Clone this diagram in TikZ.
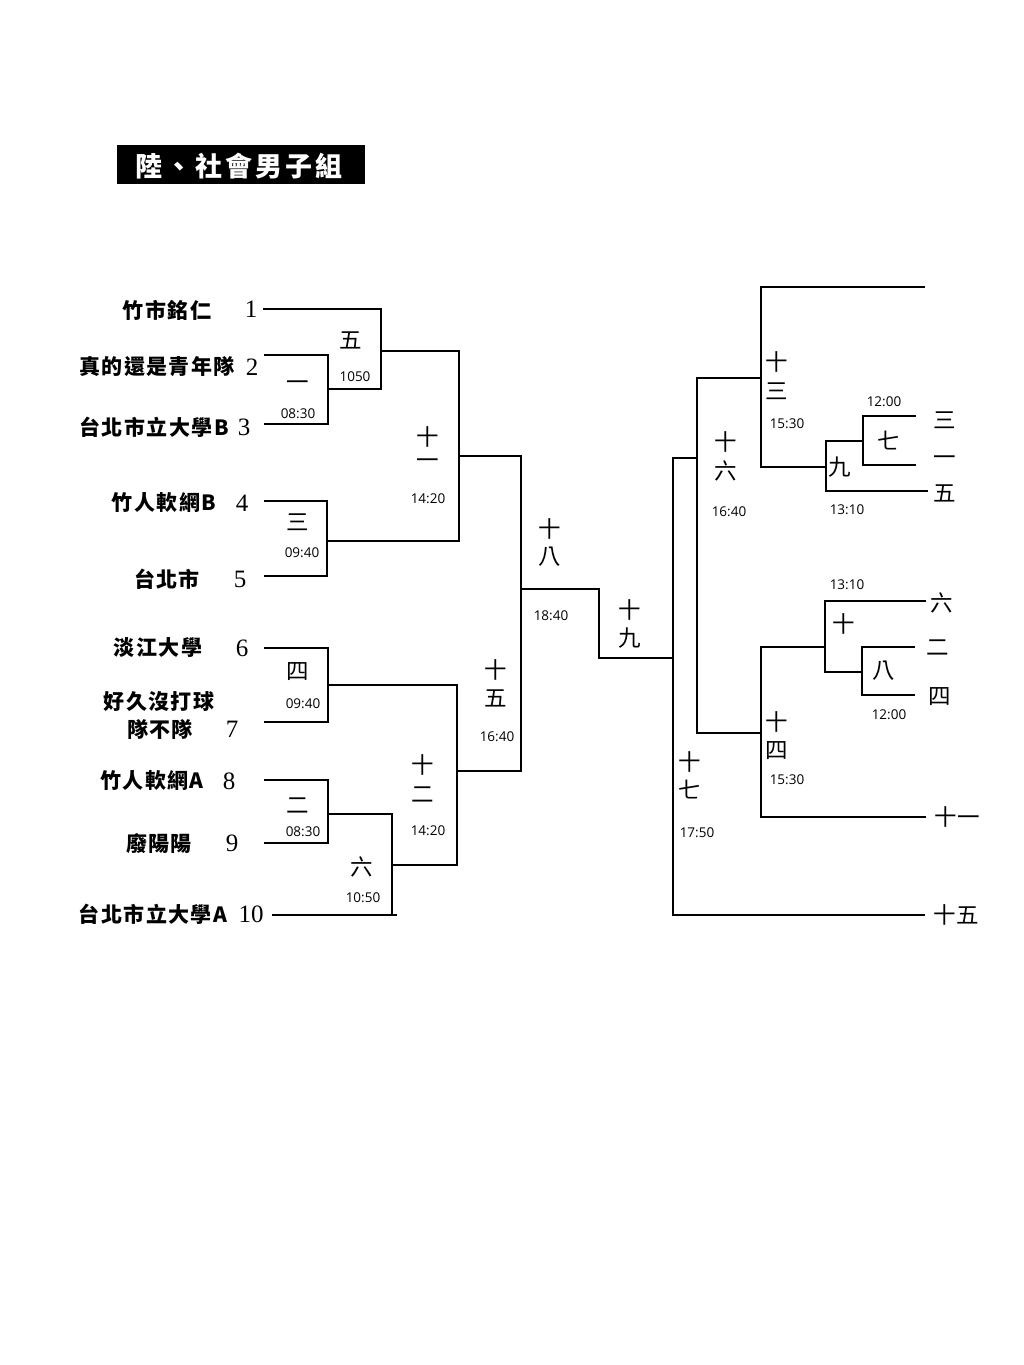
\documentclass[tikz,border=0pt]{standalone}
\usepackage{fontspec}
\setmainfont{Liberation Serif}
\newfontfamily\cjk{Noto Sans CJK TC}
\newfontfamily\cjkwide[LetterSpace=7]{Noto Sans CJK TC}
\newfontfamily\cjktitle[LetterSpace=11]{Noto Sans CJK TC}
\newfontfamily\timefont{Open Sans}
\tikzset{
  team/.style={font=\cjkwide\bfseries\fontsize{21}{22}\selectfont, inner sep=0pt},
  num/.style={font=\fontsize{25}{25}\selectfont, inner sep=0pt},
  mlab/.style={font=\cjk\fontsize{22.5}{24}\selectfont, inner sep=0pt},
  tlab/.style={font=\timefont\fontsize{13.5}{14}\selectfont, inner sep=0pt},
  ln/.style={line width=1.3pt, black},
}
\begin{document}
\begin{tikzpicture}[x=1pt,y=-1pt]
\useasboundingbox (0,0) rectangle (1024,1365);
% title
\node[fill=black, minimum width=248pt, minimum height=39pt, inner sep=0pt] (titlebox) at (241,164.5) {};
\node[font=\cjktitle\bfseries\fontsize{27}{28}\selectfont, text=white, inner sep=0pt] (title) at (239,166) {陸、社會男子組};

% team names and seeds
\node[team] (n1) at (167,310) {竹市銘仁};
\node[num] (s1) at (251,309) {1};
\node[team] (n2) at (157,367) {真的還是青年隊};
\node[num] (s2) at (252,367) {2};
\node[team] (n3) at (154,427) {台北市立大學B};
\node[num] (s3) at (244,427) {3};
\node[team] (n4) at (164,503) {竹人軟網B};
\node[num] (s4) at (242,503) {4};
\node[team] (n5) at (167,579) {台北市};
\node[num] (s5) at (240,579) {5};
\node[team] (n6) at (158,648) {淡江大學};
\node[num] (s6) at (242,648) {6};
\node[team] (n7a) at (159,702) {好久沒打球};
\node[team] (n7b) at (160,730) {隊不隊};
\node[num] (s7) at (232,729) {7};
\node[team] (n8) at (152,781) {竹人軟網A};
\node[num] (s8) at (229,781) {8};
\node[team] (n9) at (159,843) {廢陽陽};
\node[num] (s9) at (232,843) {9};
\node[team] (n10) at (153,914) {台北市立大學A};
\node[num] (s10) at (251,914) {10};

% line ends (left)
\coordinate (t1) at (263,309);
\coordinate (t2) at (264,355);
\coordinate (t3) at (264,424);
\coordinate (t4) at (264,501);
\coordinate (t5) at (264,576);
\coordinate (t6) at (264,648);
\coordinate (t7) at (264,722);
\coordinate (t8) at (264,780);
\coordinate (t9) at (264,843);
\coordinate (t10) at (272,915);
\coordinate (t10x) at (397,915);
% match output points (left)
\coordinate (m1) at (328,389);
\coordinate (m5) at (381,351);
\coordinate (m3) at (327,541);
\coordinate (m11) at (459,456);
\coordinate (m4) at (328,685);
\coordinate (m2) at (328,814);
\coordinate (m6) at (392,865);
\coordinate (m12) at (457,771);
\coordinate (m15) at (521,589);
\coordinate (m19) at (599,620);
% right side
\coordinate (eTop) at (925,287);
\coordinate (e3) at (916,416);
\coordinate (e1) at (916,465);
\coordinate (e5) at (928,491);
\coordinate (e6) at (926,601);
\coordinate (e2) at (915,647);
\coordinate (e4) at (915,695);
\coordinate (e11) at (926,817);
\coordinate (e15) at (925,915);
\coordinate (r7) at (863,441);
\coordinate (r9) at (826,467);
\coordinate (r13) at (761,378);
\coordinate (r8) at (862,672);
\coordinate (r10) at (825,647);
\coordinate (r14) at (761,733);
\coordinate (r16) at (697,458);
\coordinate (r17) at (673,658);

% connectors left
\draw[ln] (t3) -| (m1) |- (t2);
\draw[ln] (m1) -| (m5) |- (t1);
\draw[ln] (t5) -| (m3) |- (t4);
\draw[ln] (m3) -| (m11) |- (m5);
\draw[ln] (t7) -| (m4) |- (t6);
\draw[ln] (t9) -| (m2) |- (t8);
\draw[ln] (t10) -- (t10x);
\draw[ln] (t10) -| (m6) |- (m2);
\draw[ln] (m6) -| (m12) |- (m4);
\draw[ln] (m12) -| (m15) |- (m11);
\draw[ln] (m15) -| (m19) |- (r17);
% connectors right
\draw[ln] (e1) -| (r7) |- (e3);
\draw[ln] (e5) -| (r9) |- (r7);
\draw[ln] (r9) -| (r13) |- (eTop);
\draw[ln] (e4) -| (r8) |- (e2);
\draw[ln] (r8) -| (r10) |- (e6);
\draw[ln] (e11) -| (r14) |- (r10);
\draw[ln] (r14) -| (r16) |- (r13);
\draw[ln] (e15) -| (r17) |- (r16);

% match labels left
\node[mlab] (l1) at (298,386) {一};
\node[tlab] (l1t) at (298,414) {08:30};
\node[mlab] (l5) at (351,340) {五};
\node[tlab] (l5t) at (355,377) {1050};
\node[mlab] (l3) at (298,522) {三};
\node[tlab] (l3t) at (302,553) {09:40};
\node[mlab] (l11a) at (428,437) {十};
\node[mlab] (l11b) at (428,464) {一};
\node[tlab] (l11t) at (428,499) {14:20};
\node[mlab] (l4) at (298,672) {四};
\node[tlab] (l4t) at (303,704) {09:40};
\node[mlab] (l2) at (298,806) {二};
\node[tlab] (l2t) at (303,832) {08:30};
\node[mlab] (l6) at (362,867) {六};
\node[tlab] (l6t) at (363,898) {10:50};
\node[mlab] (l12a) at (423,765) {十};
\node[mlab] (l12b) at (423,795) {二};
\node[tlab] (l12t) at (428,831) {14:20};
\node[mlab] (l15a) at (496,670) {十};
\node[mlab] (l15b) at (496,698) {五};
\node[tlab] (l15t) at (497,737) {16:40};
\node[mlab] (l18a) at (550,529) {十};
\node[mlab] (l18b) at (550,557) {八};
\node[tlab] (l18t) at (551,616) {18:40};
\node[mlab] (l19a) at (630,610) {十};
\node[mlab] (l19b) at (630,638) {九};

% match labels right
\node[mlab] (l13a) at (777,362) {十};
\node[mlab] (l13b) at (777,391) {三};
\node[tlab] (l13t) at (787,424) {15:30};
\node[mlab] (l16a) at (726,442) {十};
\node[mlab] (l16b) at (726,471) {六};
\node[tlab] (l16t) at (729,512) {16:40};
\node[mlab] (l9) at (840,467) {九};
\node[tlab] (l9t) at (847,510) {13:10};
\node[mlab] (l7) at (889,441) {七};
\node[tlab] (l7t) at (884,402) {12:00};
\node[mlab] (l10) at (844,624) {十};
\node[tlab] (l10t) at (847,585) {13:10};
\node[mlab] (l8) at (884,671) {八};
\node[tlab] (l8t) at (889,715) {12:00};
\node[mlab] (l14a) at (777,722) {十};
\node[mlab] (l14b) at (777,751) {四};
\node[tlab] (l14t) at (787,780) {15:30};
\node[mlab] (l17a) at (690,762) {十};
\node[mlab] (l17b) at (690,790) {七};
\node[tlab] (l17t) at (697,833) {17:50};

% right-end labels
\node[mlab] (x3) at (945,420) {三};
\node[mlab] (x1) at (945,461) {一};
\node[mlab] (x5) at (945,493) {五};
\node[mlab] (x6) at (942,603) {六};
\node[mlab] (x2) at (938,648) {二};
\node[mlab] (x4) at (940,697) {四};
\node[mlab] (x11) at (957,817) {十一};
\node[mlab] (x15) at (956,915) {十五};
\end{tikzpicture}
\end{document}
